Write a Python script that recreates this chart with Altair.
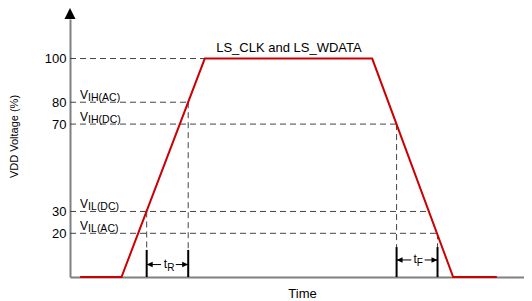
import altair as alt
import pandas as pd

FONT = "Liberation Sans"
RED = "#cc0000"
DASH = "#444444"
AXIS = "#808080"

# ---- data (time in arbitrary units, voltage in % of VDD) ----
signal_time = [2.2, 11.2, 29.3, 65.7, 83.3, 92.8]
signal_volt = [0, 0, 100, 100, 0, 0]

tick_values = [20, 30, 70, 80, 100]

level_values = [100, 80, 70, 30, 20]
level_end_time = [29.3, 25.7, 71.0, 78.0, 79.9]

label_levels = [80, 70, 30, 20]
label_main = ["V", "V", "V", "V"]
label_sub = ["IH(AC)", "IH(DC)", "IL(DC)", "IL(AC)"]
label_time = [2.2, 2.2, 2.2, 2.2]

marker_time = [16.67, 25.7, 71.0, 79.9]
marker_top = [30, 80, 70, 20]
marker_solid_top = [12.4, 12.4, 13.7, 13.7]

span_sub = ["R", "F"]
span_start = [16.67, 71.0]
span_end = [25.7, 79.9]
span_gap_left = [19.8, 74.2]
span_gap_right = [23.0, 77.1]
span_level = [5.7, 7.8]

signal_name = "LS_CLK and LS_WDATA"
signal_name_time = 47.6
signal_name_level = 100

X_MAX = 98.7
Y_MAX = 118.1

# ---- frames ----
sig = pd.DataFrame({"time": signal_time, "volt": signal_volt})
lev = pd.DataFrame({"level": level_values, "end": level_end_time, "start": [0] * len(level_values)})
lab = pd.DataFrame({"level": label_levels, "main": label_main, "sub": label_sub, "time": label_time})
mk = pd.DataFrame({"time": marker_time, "top": marker_top, "stop": marker_solid_top,
                   "zero": [0] * len(marker_time)})
sp = pd.DataFrame({"sub": span_sub, "start": span_start, "end": span_end,
                   "gl": span_gap_left, "gr": span_gap_right, "level": span_level})
sp["mid"] = [(a + b) / 2 for a, b in zip(span_start, span_end)]
ttl = pd.DataFrame({"time": [signal_name_time], "level": [signal_name_level], "text": [signal_name]})
arr_top = pd.DataFrame({"time": [0], "level": [Y_MAX]})

xscale = alt.Scale(domain=[0, X_MAX], nice=False, zero=False)
yscale = alt.Scale(domain=[0, Y_MAX], nice=False, zero=False)

xaxis = alt.Axis(labels=False, ticks=False, grid=False, domainColor=AXIS, domainWidth=2,
                 title="Time", titleFont=FONT, titleFontSize=13, titleFontWeight="normal",
                 titleColor="black", titleX=232, titleY=20, titleAlign="center",
                 titleBaseline="alphabetic")
yaxis = alt.Axis(values=tick_values, ticks=False, grid=False, domainColor=AXIS, domainWidth=2,
                 labelFont=FONT, labelFontSize=13, labelColor="black", labelPadding=4,
                 labelOverlap=False,
                 title="VDD Voltage (%)", titleFont=FONT, titleFontSize=11,
                 titleFontWeight="normal", titleColor="black", titleX=-56, titleY=117,
                 titleAlign="center", titleBaseline="middle", titleAngle=270)


def X(f):
    return alt.X(f, type="quantitative", scale=xscale, axis=xaxis)


def Y(f):
    return alt.Y(f, type="quantitative", scale=yscale, axis=yaxis)


levels = alt.Chart(lev).mark_rule(color=DASH, strokeWidth=1, strokeDash=[6, 4]).encode(
    x=X("start"), x2="end", y=Y("level"))

mk_dash = alt.Chart(mk).mark_rule(color=DASH, strokeWidth=1, strokeDash=[6, 4]).encode(
    x=X("time"), y=Y("top"), y2="stop")
mk_solid = alt.Chart(mk).mark_rule(color="black", strokeWidth=2).encode(
    x=X("time"), y=Y("zero"), y2="stop")

shaft_l = alt.Chart(sp).mark_rule(color="black", strokeWidth=1).encode(
    x=X("start"), x2="gl", y=Y("level"))
shaft_r = alt.Chart(sp).mark_rule(color="black", strokeWidth=1).encode(
    x=X("gr"), x2="end", y=Y("level"))
head_l = alt.Chart(sp).mark_point(shape="M0,0L2,-0.9L2,0.9Z", size=36, filled=True,
                                  color="black", opacity=1, strokeWidth=0).encode(
    x=X("start"), y=Y("level"))
head_r = alt.Chart(sp).mark_point(shape="M0,0L-2,-0.9L-2,0.9Z", size=36, filled=True,
                                  color="black", opacity=1, strokeWidth=0).encode(
    x=X("end"), y=Y("level"))
span_t = alt.Chart(sp).mark_text(text="t", align="right", baseline="alphabetic", font=FONT,
                                 fontSize=12, dx=-0.3, dy=3.5, color="black").encode(
    x=X("mid"), y=Y("level"))
span_s = alt.Chart(sp).mark_text(align="left", baseline="alphabetic", font=FONT,
                                 fontSize=10, dx=-0.3, dy=6, color="black").encode(
    x=X("mid"), y=Y("level"), text="sub")

lab_main = alt.Chart(lab).mark_text(align="left", baseline="alphabetic", font=FONT,
                                    fontSize=12, dy=-3.3, color="black").encode(
    x=X("time"), y=Y("level"), text="main")
lab_sub = alt.Chart(lab).mark_text(align="left", baseline="alphabetic", font=FONT,
                                   fontSize=10.5, dx=8, dy=-1.3, color="black").encode(
    x=X("time"), y=Y("level"), text="sub")

line = alt.Chart(sig).mark_line(color=RED, strokeWidth=2).encode(
    x=X("time"), y=Y("volt"))

name = alt.Chart(ttl).mark_text(align="center", baseline="alphabetic", font=FONT,
                                fontSize=13, dy=-6.5, color="black").encode(
    x=X("time"), y=Y("level"), text="text")

a_top = alt.Chart(arr_top).mark_point(shape="M0,-2L-1,0L1,0Z", size=121, filled=True,
                                      color="black", opacity=1, strokeWidth=0).encode(
    x=X("time"), y=Y("level"))

chart = alt.layer(
    levels, mk_dash, mk_solid, shaft_l, shaft_r, head_l, head_r, span_t, span_s,
    lab_main, lab_sub, line, name, a_top
).properties(
    width=454, height=258,
    padding={"left": 62, "top": 11, "right": 0, "bottom": 24},
    autosize=alt.AutoSizeParams(type="none"),
).configure_view(stroke=None)

chart.save("out.html", embed_options={"renderer": "svg", "actions": False})
